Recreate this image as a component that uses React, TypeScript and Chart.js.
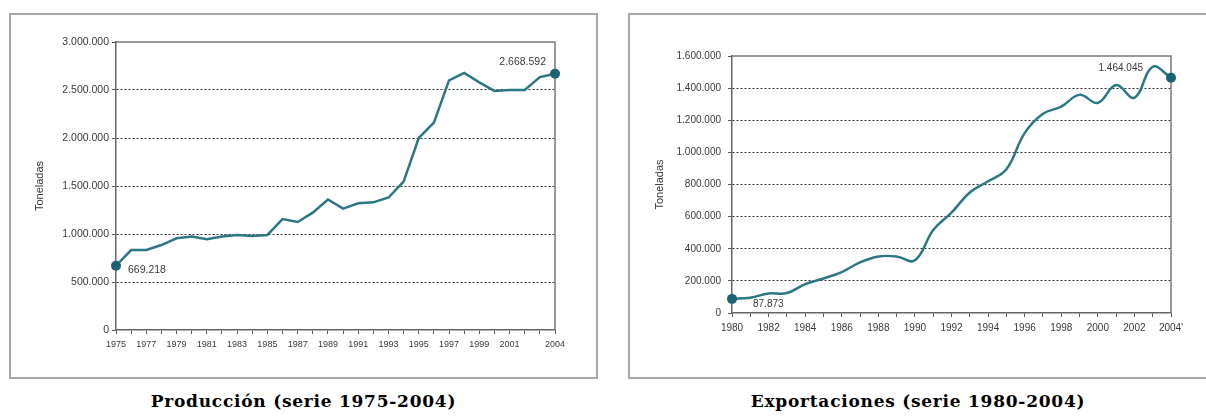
import React, { useEffect, useRef } from "react";
import { Chart, registerables } from "chart.js";

Chart.register(...registerables);

// ---------- DATA ----------
const PROD_YEARS = [
  "1975", "1976", "1977", "1978", "1979", "1980", "1981", "1982", "1983", "1984",
  "1985", "1986", "1987", "1988", "1989", "1990", "1991", "1992", "1993", "1994",
  "1995", "1996", "1997", "1998", "1999", "2000", "2001", "2002", "2003", "2004",
];
const PROD_TICK_LABELS = [
  "1975", "", "1977", "", "1979", "", "1981", "", "1983", "",
  "1985", "", "1987", "", "1989", "", "1991", "", "1993", "",
  "1995", "", "1997", "", "1999", "", "2001", "", "", "2004",
];
const PROD_VALUES = [
  669218, 833000, 833000, 885000, 955000, 975000, 945000, 975000, 990000, 980000,
  990000, 1155000, 1125000, 1222000, 1360000, 1265000, 1320000, 1330000, 1380000, 1545000,
  2000000, 2160000, 2600000, 2678000, 2580000, 2490000, 2500000, 2500000, 2635000, 2668592,
];
const PROD_Y_MAX = 3000000;
const PROD_Y_STEP = 500000;

const EXP_YEARS = [
  "1980", "1981", "1982", "1983", "1984", "1985", "1986", "1987", "1988", "1989",
  "1990", "1991", "1992", "1993", "1994", "1995", "1996", "1997", "1998", "1999",
  "2000", "2001", "2002", "2003", "2004",
];
const EXP_TICK_LABELS = [
  "1980", "", "1982", "", "1984", "", "1986", "", "1988", "",
  "1990", "", "1992", "", "1994", "", "1996", "", "1998", "",
  "2000", "", "2002", "", "2004'",
];
const EXP_VALUES = [
  87873, 95000, 122000, 124000, 180000, 215000, 255000, 315000, 352000, 352000,
  328000, 517000, 625000, 750000, 820000, 895000, 1120000, 1240000, 1285000, 1358000,
  1308000, 1420000, 1340000, 1533000, 1464045,
];
const EXP_Y_MAX = 1600000;
const EXP_Y_STEP = 200000;

const Y_TITLE = "Toneladas";
const CAPTION_PROD = "Producción (serie 1975-2004)";
const CAPTION_EXP = "Exportaciones (serie 1980-2004)";

// ---------- HELPERS ----------
const fmt = (v: number) =>
  Math.round(v).toString().replace(/\B(?=(\d{3})+(?!\d))/g, ".");

const SANS = "'Liberation Sans', Arial, sans-serif";

const framePlugin = {
  id: "frame",
  beforeDatasetsDraw(chart: any) {
    const { ctx, chartArea: a } = chart;
    ctx.save();
    ctx.strokeStyle = "#7a7a7a";
    ctx.lineWidth = 1.5;
    ctx.beginPath();
    ctx.moveTo(a.left, a.top);
    ctx.lineTo(a.right, a.top);
    ctx.lineTo(a.right, a.bottom);
    ctx.stroke();
    ctx.restore();
  },
};

type Ann = { index: number; dx: number; dy: number; align: CanvasTextAlign; size: number };

const annPlugin = (anns: Ann[]) => ({
  id: "ann",
  afterDatasetsDraw(chart: any) {
    const { ctx } = chart;
    const meta = chart.getDatasetMeta(0);
    const data = chart.data.datasets[0].data as number[];
    ctx.save();
    ctx.fillStyle = "#3a3a3a";
    ctx.textBaseline = "middle";
    anns.forEach((a) => {
      const el = meta.data[a.index];
      ctx.font = `${a.size}px ${SANS}`;
      ctx.textAlign = a.align;
      ctx.fillText(fmt(data[a.index]), el.x + a.dx, el.y + a.dy);
    });
    ctx.restore();
  },
});

type Props = {
  years: string[];
  tickLabels: string[];
  values: number[];
  yMax: number;
  yStep: number;
  tension: number;
  width: number;
  height: number;
  padTop: number;
  padRight: number;
  yWidth: number;
  xHeight: number;
  yPad: number;
  xPad: number;
  yFont: number;
  xFont: number;
  titlePad: number;
  anns: Ann[];
};

function LineChart(p: Props) {
  const ref = useRef<HTMLCanvasElement | null>(null);
  useEffect(() => {
    if (!ref.current) return;
    const last = p.values.length - 1;
    const chart = new Chart(ref.current, {
      type: "line",
      data: {
        labels: p.years,
        datasets: [
          {
            data: p.values,
            borderColor: "#2b7884",
            borderWidth: 2.5,
            tension: p.tension,
            fill: false,
            clip: false as any,
            pointRadius: (c: any) => (c.dataIndex === 0 || c.dataIndex === last ? 5 : 0),
            pointBackgroundColor: "#1d6272",
            pointBorderColor: "#1d6272",
            pointBorderWidth: 0,
            pointHoverRadius: 0,
          },
        ],
      },
      options: {
        responsive: false,
        animation: false,
        events: [],
        layout: { padding: { top: p.padTop, right: p.padRight, left: 0, bottom: 0 } },
        plugins: {
          legend: { display: false },
          tooltip: { enabled: false },
          title: { display: false },
        },
        scales: {
          x: {
            type: "category",
            offset: false,
            grid: {
              display: true,
              drawOnChartArea: false,
              drawTicks: true,
              tickLength: 4,
              tickColor: "#555",
              tickWidth: 1,
            },
            border: { display: true, color: "#666", width: 1.5 },
            ticks: {
              autoSkip: false,
              maxRotation: 0,
              minRotation: 0,
              padding: p.xPad,
              color: "#3a3a3a",
              font: { family: SANS, size: p.xFont },
              callback: (_v: any, i: number) => p.tickLabels[i],
            },
            afterFit: (s: any) => {
              s.height = p.xHeight;
            },
          },
          y: {
            min: 0,
            max: p.yMax,
            ticks: {
              stepSize: p.yStep,
              padding: p.yPad,
              color: "#3a3a3a",
              font: { family: SANS, size: p.yFont },
              callback: (v: any) => fmt(Number(v)),
            },
            grid: {
              color: (c: any) =>
                c.tick && (c.tick.value === p.yMax || c.tick.value === 0)
                  ? "rgba(0,0,0,0)"
                  : "#2e2e2e",
              lineWidth: 1,
              drawTicks: true,
              tickLength: 4,
              tickColor: "#555",
              tickBorderDash: [],
            },
            border: { display: true, color: "#666", width: 1.5, dash: [2, 2] },
            title: {
              display: true,
              text: Y_TITLE,
              color: "#3a3a3a",
              font: { family: SANS, size: 11 },
              padding: { top: p.titlePad, bottom: 0 },
            },
            afterFit: (s: any) => {
              s.width = p.yWidth;
            },
          },
        },
      } as any,
      plugins: [framePlugin, annPlugin(p.anns)],
    });
    return () => chart.destroy();
  }, []);
  return (
    <canvas
      ref={ref}
      width={p.width}
      height={p.height}
      style={{ display: "block", width: p.width, height: p.height }}
    />
  );
}

const BOX_BORDER = "2px solid #a8a8a8";

function Panel(props: {
  left: number;
  width: number;
  caption: string;
  chart: Omit<Props, "width" | "height">;
}) {
  const top = 13;
  const h = 366;
  return (
    <>
      <div
        style={{
          position: "absolute",
          left: props.left,
          top,
          width: props.width,
          height: h,
          border: BOX_BORDER,
          boxSizing: "border-box",
          background: "#fff",
        }}
      >
        <LineChart {...props.chart} width={props.width - 4} height={h - 4} />
      </div>
      <div
        style={{
          position: "absolute",
          left: props.left,
          top: 391,
          width: props.width,
          textAlign: "center",
          fontFamily: "'DejaVu Serif', serif",
          fontWeight: "bold",
          fontSize: 17,
          letterSpacing: "0.75px",
          lineHeight: "20px",
          color: "#000",
          whiteSpace: "nowrap",
        }}
      >
        {props.caption}
      </div>
    </>
  );
}

export default function App() {
  return (
    <div
      style={{
        position: "fixed",
        left: 0,
        top: 0,
        width: 1206,
        height: 416,
        overflow: "hidden",
        background: "#fff",
      }}
    >
      <Panel
        left={9}
        width={589}
        caption={CAPTION_PROD}
        chart={{
          years: PROD_YEARS,
          tickLabels: PROD_TICK_LABELS,
          values: PROD_VALUES,
          yMax: PROD_Y_MAX,
          yStep: PROD_Y_STEP,
          tension: 0,
          padTop: 27,
          padRight: 41,
          yWidth: 105,
          xHeight: 47,
          yPad: 3,
          xPad: 5,
          yFont: 10.5,
          xFont: 9,
          titlePad: 22,
          anns: [
            { index: 0, dx: 12, dy: 4, align: "left", size: 10.5 },
            { index: PROD_VALUES.length - 1, dx: -9, dy: -12, align: "right", size: 10.5 },
          ],
        }}
      />
      <Panel
        left={628}
        width={580}
        caption={CAPTION_EXP}
        chart={{
          years: EXP_YEARS,
          tickLabels: EXP_TICK_LABELS,
          values: EXP_VALUES,
          yMax: EXP_Y_MAX,
          yStep: EXP_Y_STEP,
          tension: 0.4,
          padTop: 41,
          padRight: 35,
          yWidth: 102,
          xHeight: 64,
          yPad: 7,
          xPad: 5,
          yFont: 10,
          xFont: 10,
          titlePad: 23,
          anns: [
            { index: 0, dx: 21, dy: 5, align: "left", size: 10 },
            { index: EXP_VALUES.length - 1, dx: -28, dy: -10, align: "right", size: 10 },
          ],
        }}
      />
    </div>
  );
}
